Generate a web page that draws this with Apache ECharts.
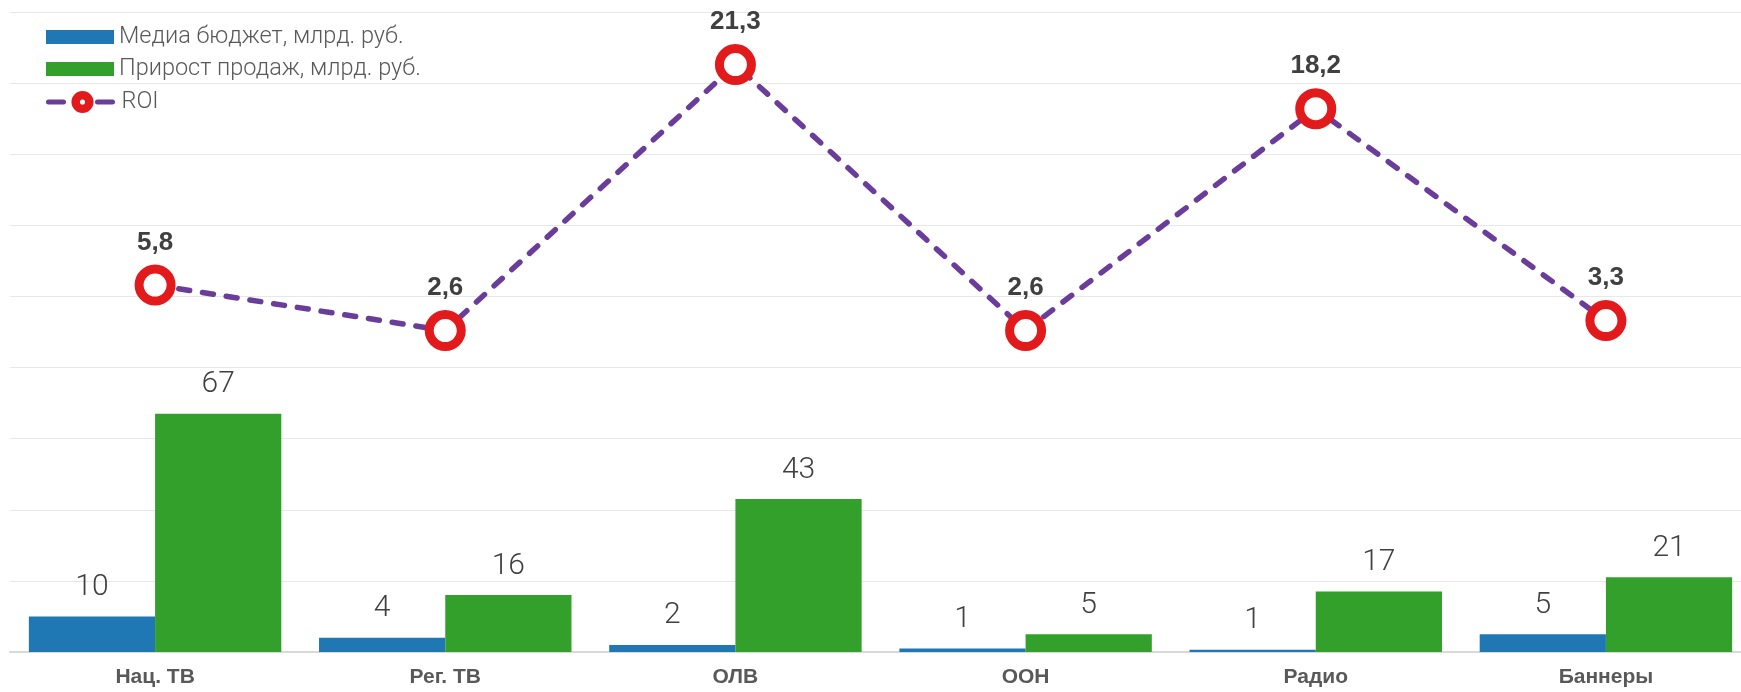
<!DOCTYPE html>
<html>
<head>
<meta charset="utf-8">
<script src="https://cdn.jsdelivr.net/npm/echarts@6/dist/echarts.min.js"></script>
<style>
html,body{margin:0;padding:0;background:#fff;}
#chart{width:1741px;height:692px;}
</style>
</head>
<body>
<div id="chart"></div>
<script>
const categories = ['Нац. ТВ', 'Рег. ТВ', 'ОЛВ', 'ООН', 'Радио', 'Баннеры'];
const mediaBudget = [10, 4, 2, 1, 0.6, 5];
const salesGrowth = [67, 16, 43, 5, 17, 21];
const roi = [5.8, 2.6, 21.3, 2.6, 18.2, 3.3];
const seriesNames = ['Медиа бюджет, млрд. руб.', 'Прирост продаж, млрд. руб.', 'ROI'];

const chart = echarts.init(document.getElementById('chart'), null, {renderer: 'canvas'});
const barLabel = {
  show: true,
  position: 'top',
  distance: 14,
  fontFamily: 'Roboto',
  fontWeight: 300,
  fontSize: 30,
  color: '#404040',
  formatter: p => String(Math.round(p.value))
};
const legendText = {fontFamily: 'Roboto', fontWeight: 300, fontSize: 23.5, lineHeight: 24, color: '#595959'};
chart.setOption({
  animation: false,
  backgroundColor: '#ffffff',
  legend: [
    {
      orient: 'vertical',
      left: 41,
      top: 20,
      itemWidth: 68,
      itemHeight: 14,
      itemGap: 8,
      icon: 'rect',
      textStyle: legendText,
      data: [seriesNames[0], seriesNames[1]]
    },
    {
      orient: 'vertical',
      left: 41,
      top: 85,
      itemWidth: 68,
      itemHeight: 17,
      textStyle: legendText,
      data: [{
        name: seriesNames[2],
        itemStyle: {color: '#ffffff', borderColor: '#e31a1c', borderWidth: 8.5},
        lineStyle: {color: '#6a3d9a', width: 5, cap: 'round', type: [15, 34, 15]}
      }]
    }
  ],
  grid: {left: 10, right: -10, top: 12, bottom: 40, containLabel: false, outerBoundsMode: 'none'},
  xAxis: {
    type: 'category',
    data: categories,
    axisTick: {show: false},
    axisLine: {show: true, lineStyle: {color: '#d9d9d9', width: 2}},
    axisLabel: {fontFamily: 'Liberation Sans', fontWeight: 'bold', fontSize: 21, color: '#595959', margin: 15}
  },
  yAxis: [
    {type: 'value', min: 0, max: 180, interval: 20, axisLabel: {show: false}, axisLine: {show: false}, axisTick: {show: false},
     splitLine: {show: true, lineStyle: {color: '#e8e8e8', width: 1}}},
    {type: 'value', min: -20, max: 25, interval: 5, axisLabel: {show: false}, axisLine: {show: false}, axisTick: {show: false},
     splitLine: {show: false}}
  ],
  series: [
    {name: seriesNames[0], type: 'bar', data: mediaBudget, barGap: '0%', barCategoryGap: '13%',
     itemStyle: {color: '#1f78b4'}, label: barLabel},
    {name: seriesNames[1], type: 'bar', data: salesGrowth,
     itemStyle: {color: '#33a02c'}, label: barLabel},
    {name: seriesNames[2], type: 'line', yAxisIndex: 1, data: roi,
     symbol: 'circle', symbolSize: 32,
     lineStyle: {color: '#6a3d9a', width: 5.5, cap: 'round', type: [11, 13]},
     itemStyle: {color: '#ffffff', borderColor: '#e31a1c', borderWidth: 9},
     label: {show: true, position: 'top', distance: 9, fontFamily: 'Liberation Sans', fontWeight: 'bold', fontSize: 26, color: '#404040',
       formatter: p => String(p.value).replace('.', ',')},
     z: 5}
  ]
});
</script>
</body>
</html>
